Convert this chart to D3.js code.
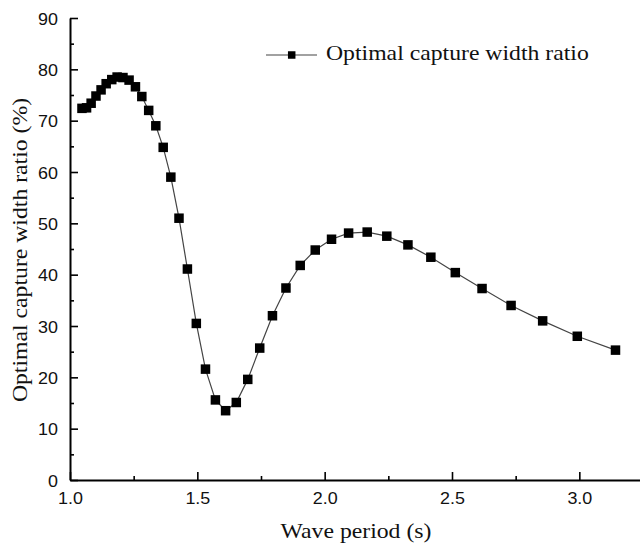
<!DOCTYPE html>
<html>
<head>
<meta charset="utf-8">
<script src="https://cdn.jsdelivr.net/npm/d3@7"></script>
<style>
  body { margin: 0; background: #fff; }
  .serif { font-family: "Liberation Serif", "Times New Roman", serif; }
  .tick text { font-family: "Liberation Sans", Arial, sans-serif; }
</style>
</head>
<body>
<div id="chart"></div>
<script>
//------------------------------------------------------------
// data
//------------------------------------------------------------
var periods = [1.047, 1.065, 1.083, 1.102, 1.122, 1.142, 1.164, 1.185, 1.208, 1.232,
               1.257, 1.282, 1.309, 1.337, 1.366, 1.396, 1.428, 1.461, 1.496, 1.532,
               1.571, 1.611, 1.653, 1.698, 1.745, 1.795, 1.848, 1.904, 1.963, 2.027,
               2.094, 2.167, 2.244, 2.327, 2.417, 2.513, 2.618, 2.732, 2.856, 2.992, 3.142];
var ratios  = [72.4, 72.5, 73.4, 74.8, 76.0, 77.2, 78.0, 78.5, 78.4, 77.9,
               76.6, 74.7, 72.0, 69.0, 64.8, 59.0, 51.0, 41.1, 30.5, 21.6,
               15.6, 13.5, 15.1, 19.6, 25.7, 32.0, 37.4, 41.8, 44.8, 46.9,
               48.1, 48.3, 47.5, 45.8, 43.4, 40.4, 37.3, 34.0, 31.0, 28.0, 25.3];

var xTicks = [1.0, 1.5, 2.0, 2.5, 3.0];
var xMinor = [1.25, 1.75, 2.25, 2.75];
var yTicks = [0, 10, 20, 30, 40, 50, 60, 70, 80, 90];
var yMinor = [5, 15, 25, 35, 45, 55, 65, 75, 85];

var seriesName = "Optimal capture width ratio";
var xTitle = "Wave period (s)";
var yTitle = "Optimal capture width ratio (%)";

//------------------------------------------------------------
// svg + scales
//------------------------------------------------------------
var svgWidth = 640, svgHeight = 550;
var stretch = 1.13;

var svg = d3.select("#chart").append("svg")
  .attr("width", svgWidth)
  .attr("height", svgHeight)
  .style("display", "block");

var x = d3.scaleLinear().domain([1, 3.25]).range([70, 643]);
var y = d3.scaleLinear().domain([0, 90]).range([480, 18]);

//------------------------------------------------------------
// axes (ticks pointing inward)
//------------------------------------------------------------
var xAxis = svg.append("g")
  .attr("transform", "translate(0,480)")
  .call(d3.axisBottom(x).tickValues(xTicks).tickSizeInner(-8).tickSizeOuter(0)
    .tickPadding(13).tickFormat(d3.format(".1f")));

svg.append("g")
  .attr("transform", "translate(0,480)")
  .call(d3.axisBottom(x).tickValues(xMinor).tickSizeInner(-4).tickSizeOuter(0).tickFormat(""))
  .select(".domain").remove();

var yAxis = svg.append("g")
  .attr("transform", "translate(70,0)")
  .call(d3.axisLeft(y).tickValues(yTicks).tickSizeInner(-8).tickSizeOuter(0)
    .tickPadding(12).tickFormat(d3.format("d")));

svg.append("g")
  .attr("transform", "translate(70,0)")
  .call(d3.axisLeft(y).tickValues(yMinor).tickSizeInner(-4).tickSizeOuter(0).tickFormat(""))
  .select(".domain").remove();

svg.selectAll(".domain").attr("stroke", "#000").attr("stroke-width", 2);
svg.selectAll(".tick line").attr("stroke", "#000").attr("stroke-width", 1.6);
svg.selectAll(".tick text").attr("font-size", 16).attr("fill", "#111");

xAxis.selectAll(".tick text").attr("transform", "scale(1.12,1)");
yAxis.selectAll(".tick text")
  .attr("x", -12 / 1.12)
  .attr("dy", "0.38em")
  .attr("transform", "scale(1.12,1)");

//------------------------------------------------------------
// axis titles
//------------------------------------------------------------
svg.append("text")
  .attr("class", "serif")
  .attr("transform", "translate(356,538) scale(" + stretch + ",1)")
  .attr("text-anchor", "middle")
  .attr("font-size", 21)
  .attr("fill", "#111")
  .text(xTitle);

svg.append("text")
  .attr("class", "serif")
  .attr("transform", "translate(27,250) rotate(-90) scale(" + stretch + ",1)")
  .attr("text-anchor", "middle")
  .attr("font-size", 21)
  .attr("fill", "#111")
  .text(yTitle);

//------------------------------------------------------------
// series
//------------------------------------------------------------
var data = periods.map(function (p, i) { return { t: p, r: ratios[i] }; });

var line = d3.line()
  .x(function (d) { return x(d.t); })
  .y(function (d) { return y(d.r); });

svg.append("path")
  .datum(data)
  .attr("d", line)
  .attr("fill", "none")
  .attr("stroke", "#444")
  .attr("stroke-width", 1.2);

var sq = 9.5;
svg.selectAll("rect.pt")
  .data(data)
  .enter().append("rect")
  .attr("class", "pt")
  .attr("x", function (d) { return x(d.t) - sq / 2; })
  .attr("y", function (d) { return y(d.r) - sq / 2; })
  .attr("width", sq)
  .attr("height", sq)
  .attr("fill", "#000");

//------------------------------------------------------------
// legend
//------------------------------------------------------------
var legend = svg.append("g").attr("transform", "translate(266,55)");
legend.append("line")
  .attr("x1", 0).attr("x2", 51).attr("y1", 0).attr("y2", 0)
  .attr("stroke", "#444").attr("stroke-width", 1.2);
legend.append("rect")
  .attr("x", 25.7 - 3.75).attr("y", -3.75)
  .attr("width", 7.5).attr("height", 7.5)
  .attr("fill", "#000");
legend.append("text")
  .attr("class", "serif")
  .attr("transform", "translate(60,4.5) scale(" + stretch + ",1)")
  .attr("font-size", 21)
  .attr("fill", "#111")
  .text(seriesName);
</script>
</body>
</html>
